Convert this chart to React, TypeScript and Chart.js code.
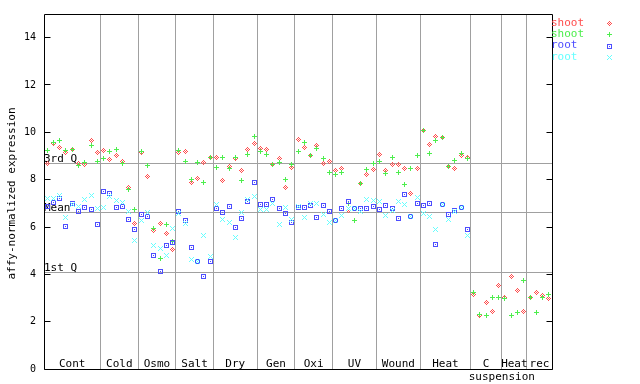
import { useEffect, useRef } from "react";
import { Chart, registerables } from "chart.js";

Chart.register(...registerables);

// ---- data ----
const groupNames = ["Cont", "Cold", "Osmo", "Salt", "Dry", "Gen", "Oxi", "UV", "Wound", "Heat", "C", "Heat", "rec"];
const groupSubNames = ["", "", "", "", "", "", "", "", "", "", "suspension", "", ""];
const groupSizes = [9, 6, 6, 6, 7, 6, 6, 7, 7, 8, 5, 4, 4];

const seriesNames = ["shoot", "shoot", "root", "root"];
const seriesColors = ["rgb(255,77,77)", "rgb(77,238,77)", "rgb(77,77,255)", "rgb(102,255,255)"];

const shootRed = [
  8.69, 9.53, 9.38, 9.15, 9.26, 8.69, 8.65, 9.66, 9.15,
  9.22, 8.87, 9.02, 8.77, 7.68, 6.15,
  9.15, 8.14, 5.86, 6.16, 5.74, 5.03,
  9.15, 9.19, 7.89, 8.05, 8.73, 8.95,
  8.94, 7.97, 8.54, 8.88, 8.39, 9.28, 9.53,
  9.33, 9.27, 8.65, 8.9, 7.68, 8.53,
  9.7, 9.36, 9.02, 9.45, 8.69, 8.77,
  8.39, 8.49, 6.71, 6.79, 7.84, 8.22, 8.43,
  9.07, 8.4, 8.65, 8.65, 8.48, 7.42, 8.48,
  10.07, 9.49, 9.84, 9.79, 8.57, 8.48, 9.02, 8.94,
  3.16, 2.26, 2.83, 2.42, 3.54,
  3.04, 3.89, 3.33, 2.42,
  3.04, 3.25, 3.12, 3.0,
];
const shootGreen = [
  9.24, 9.57, 9.67, 9.24, 9.26, 8.59, 8.73, 9.45, 8.77,
  8.9, 9.18, 9.29, 8.67, 7.59, 6.76,
  9.18, 8.59, 5.95, 4.68, 6.11, 5.38,
  9.25, 8.77, 8.02, 8.73, 7.89, 8.93,
  8.53, 8.94, 8.48, 8.93, 7.97, 9.07, 9.83,
  9.2, 9.07, 8.65, 8.74, 8.01, 8.65,
  9.19, 9.57, 9.02, 9.31, 8.89, 8.31,
  8.22, 8.31, 7.0, 6.28, 7.84, 8.43, 8.69,
  8.77, 8.27, 8.95, 8.31, 7.8, 8.48, 9.02,
  10.06, 9.11, 9.66, 9.79, 8.57, 8.81, 9.11, 8.91,
  3.25, 2.32, 2.28, 3.04, 3.04,
  3.0, 2.28, 2.37, 3.75,
  3.04, 2.37, 3.04, 3.16,
];
const rootBlue: (number | null)[] = [
  6.85, 7.04, 7.21, 6.03, 7.0, 6.66, 6.83, 6.76, 6.12,
  7.5, 7.42, 6.83, 6.87, 6.33, 5.9,
  6.54, 6.45, 4.81, 4.13, 5.23, 5.36,
  6.66, 6.28, 5.15, 4.56, 3.92, 4.56,
  6.79, 6.62, 6.87, 5.99, 6.37, 7.09, 7.89,
  6.96, 6.96, 7.17, 6.79, 6.58, 6.2,
  6.83, 6.83, 6.92, 6.41, 6.92, 6.66,
  6.28, 6.79, 7.09, 6.79, 6.79, 6.79, 6.87,
  6.75, 6.92, 6.79, 6.37, 7.38, 6.45, 7.0,
  6.92, 7.0, 5.27, 6.96, 6.54, 6.71, 6.83, 5.9,
  null, null, null, null, null,
  null, null, null, null,
  null, null, null, null,
];
const rootCyan: (number | null)[] = [
  7.21, 7.19, 7.31, 6.42, 6.95, 6.85, 7.17, 7.31, 6.8,
  6.84, 7.3, 7.14, 7.05, 6.65, 5.44,
  6.28, 6.62, 5.23, 5.09, 4.81, 5.95,
  6.56, 6.16, 4.64, 4.56, 5.65, 4.77,
  6.96, 6.33, 6.2, 5.57, 6.62, 7.17, 7.27,
  6.75, 6.75, 7.0, 6.12, 6.83, 6.33,
  6.87, 6.41, 7.0, 7.0, 6.54, 6.2,
  6.28, 6.5, 6.8, 6.79, 6.66, 7.17, 7.13,
  7.09, 6.5, 6.71, 7.09, 6.96, 6.45, 7.25,
  6.58, 6.45, 5.9, 6.96, 6.33, 6.66, 6.83, 5.65,
  null, null, null, null, null,
  null, null, null, null,
  null, null, null, null,
];

const yTickValues = [0, 2, 4, 6, 8, 10, 12, 14];
const quartileLabels = ["3rd Q", "Mean", "1st Q"];
const quartileValues = [8.69, 6.62, 4.07];
const yTitle = "affy-normalized expression";

// ---- marker bitmaps ----
const markerPatterns = [
  ["..X..", ".X.X.", "X.X.X", ".X.X.", "..X.."],
  ["..X..", "..X..", "XXXXX", "..X..", "..X.."],
  ["XXXXX", "X...X", "X.X.X", "X...X", "XXXXX"],
  ["X...X", ".X.X.", "..X..", ".X.X.", "X...X"],
];

function makeMarker(pattern: string[], color: string): HTMLCanvasElement {
  const c = document.createElement("canvas");
  c.width = pattern[0].length;
  c.height = pattern.length;
  const g = c.getContext("2d")!;
  g.fillStyle = color;
  pattern.forEach((row, y) => {
    for (let x = 0; x < row.length; x++) if (row[x] === "X") g.fillRect(x, y, 1, 1);
  });
  return c;
}

const FONT = "DejaVu Sans Mono";

function toPoints(values: (number | null)[]) {
  const out: { x: number; y: number }[] = [];
  values.forEach((v, i) => {
    if (v != null) out.push({ x: i + 0.5, y: v });
  });
  return out;
}

export default function App() {
  const ref = useRef<HTMLCanvasElement | null>(null);

  useEffect(() => {
    if (!ref.current) return;
    const markers = markerPatterns.map((p, i) => makeMarker(p, seriesColors[i]));
    const total = groupSizes.reduce((a, b) => a + b, 0);
    const allSeries = [shootRed, shootGreen, rootBlue, rootCyan];

    const boundaries: number[] = [];
    let acc = 0;
    groupSizes.forEach((s) => {
      acc += s;
      boundaries.push(acc);
    });

    const decor = {
      id: "decor",
      beforeDatasetsDraw(chart: any) {
        const ctx = chart.ctx as CanvasRenderingContext2D;
        const { left, right, top, bottom } = chart.chartArea;
        const xs = chart.scales.x;
        const ys = chart.scales.y;
        ctx.save();
        ctx.strokeStyle = "#a0a0a0";
        ctx.lineWidth = 1;
        // group separators
        boundaries.slice(0, -1).forEach((b) => {
          const px = Math.floor(xs.getPixelForValue(b)) + 0.5;
          ctx.beginPath();
          ctx.moveTo(px, top);
          ctx.lineTo(px, bottom);
          ctx.stroke();
        });
        // quartile lines
        ctx.font = `11px ${FONT}`;
        ctx.fillStyle = "#000";
        ctx.textAlign = "left";
        ctx.textBaseline = "alphabetic";
        quartileValues.forEach((v, i) => {
          const py = Math.floor(ys.getPixelForValue(v)) + 0.5;
          ctx.beginPath();
          ctx.moveTo(left, py);
          ctx.lineTo(right, py);
          ctx.stroke();
          ctx.fillText(quartileLabels[i], left, py - 1.5);
        });
        // group labels
        ctx.textAlign = "center";
        ctx.textBaseline = "middle";
        let start = 0;
        groupSizes.forEach((s, i) => {
          const cx = (xs.getPixelForValue(start) + xs.getPixelForValue(start + s)) / 2;
          ctx.fillText(groupNames[i], cx, bottom - 5);
          if (groupSubNames[i]) {
            ctx.fillText(groupSubNames[i], xs.getPixelForValue(start + s), bottom + 8);
          }
          start += s;
        });
        ctx.restore();
        ctx.imageSmoothingEnabled = false;
      },
      afterDatasetsDraw(chart: any) {
        const ctx = chart.ctx as CanvasRenderingContext2D;
        const { left, right, top, bottom } = chart.chartArea;
        const ys = chart.scales.y;
        ctx.save();
        ctx.strokeStyle = "#000";
        ctx.lineWidth = 1;
        const l = Math.floor(left) + 0.5;
        const r = Math.floor(right) + 0.5;
        const t = Math.floor(top) + 0.5;
        const b = Math.floor(bottom) + 0.5;
        ctx.beginPath();
        ctx.moveTo(l, t);
        ctx.lineTo(r, t);
        ctx.lineTo(r, b);
        ctx.lineTo(l, b);
        ctx.closePath();
        ctx.stroke();
        // inner ticks on both sides
        yTickValues.forEach((v) => {
          const py = Math.floor(ys.getPixelForValue(v)) + 0.5;
          ctx.beginPath();
          ctx.moveTo(l, py);
          ctx.lineTo(l + 6, py);
          ctx.moveTo(r, py);
          ctx.lineTo(r - 6, py);
          ctx.stroke();
        });
        // y title
        ctx.fillStyle = "#000";
        ctx.font = `11px ${FONT}`;
        ctx.textAlign = "center";
        ctx.textBaseline = "middle";
        ctx.save();
        ctx.translate(12, (top + bottom) / 2 + 2);
        ctx.rotate(-Math.PI / 2);
        ctx.fillText(yTitle, 0, 0);
        ctx.restore();
        // legend
        ctx.textAlign = "left";
        seriesNames.forEach((name, i) => {
          const ly = 23 + i * 11.3;
          ctx.fillStyle = seriesColors[i];
          ctx.fillText(name, right - 1, ly);
          ctx.imageSmoothingEnabled = false;
          ctx.drawImage(markers[i], 607, Math.round(ly) - 2);
        });
        ctx.restore();
      },
    };

    const chart = new Chart(ref.current, {
      type: "scatter",
      data: {
        datasets: allSeries.map((vals, i) => ({
          label: seriesNames[i],
          data: toPoints(vals),
          pointStyle: markers[i] as any,
          pointRadius: 3,
          showLine: false,
          order: 4 - i,
        })),
      },
      options: {
        animation: false,
        responsive: false,
        maintainAspectRatio: false,
        events: [],
        layout: { padding: { left: 0, right: 88, top: 13, bottom: 15 } },
        plugins: { legend: { display: false }, tooltip: { enabled: false } },
        scales: {
          x: { type: "linear", min: 0, max: total, display: false },
          y: {
            type: "linear",
            min: 0,
            max: 15,
            afterFit: (s: any) => {
              s.width = 44;
            },
            grid: { display: false, drawTicks: false },
            border: { display: false },
            ticks: {
              stepSize: 2,
              includeBounds: false,
              padding: 8,
              color: "#000",
              font: { family: FONT, size: 10 },
              callback: (v: any) => (yTickValues.includes(Number(v)) ? String(v) : ""),
            },
          },
        },
      },
      plugins: [decor],
    });
    return () => chart.destroy();
  }, []);

  return (
    <div style={{ position: "fixed", left: 0, top: 0, width: 640, height: 384, background: "#fff" }}>
      <canvas ref={ref} width={640} height={384} style={{ width: 640, height: 384 }} />
    </div>
  );
}
